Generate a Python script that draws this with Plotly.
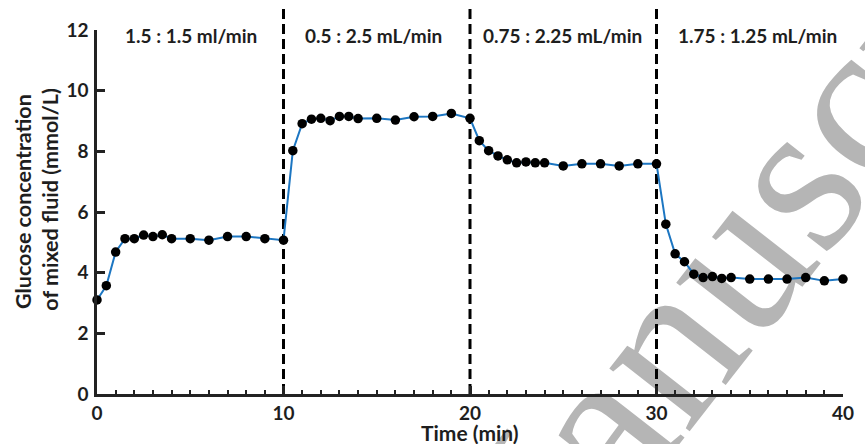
import plotly.graph_objects as go

# ---- data ----
time_min = [0, 0.5, 1, 1.5, 2, 2.5, 3, 3.5, 4, 5, 6, 7, 8, 9, 10,
            10.5, 11, 11.5, 12, 12.5, 13, 13.5, 14, 15, 16, 17, 18, 19, 20,
            20.5, 21, 21.5, 22, 22.5, 23, 23.5, 24, 25, 26, 27, 28, 29, 30,
            30.5, 31, 31.5, 32, 32.5, 33, 33.5, 34, 35, 36, 37, 38, 39, 40]
glucose = [3.10, 3.57, 4.68, 5.12, 5.12, 5.24, 5.19, 5.25, 5.12, 5.12, 5.07, 5.19, 5.19, 5.12, 5.07,
           8.02, 8.91, 9.06, 9.09, 9.01, 9.15, 9.15, 9.08, 9.09, 9.03, 9.14, 9.15, 9.25, 9.09,
           8.35, 8.02, 7.85, 7.72, 7.62, 7.65, 7.62, 7.62, 7.52, 7.59, 7.59, 7.52, 7.59, 7.59,
           5.60, 4.62, 4.36, 3.95, 3.84, 3.87, 3.81, 3.84, 3.79, 3.79, 3.79, 3.84, 3.73, 3.79]
phase_switch = [10, 20, 30]
phase_labels = ["1.5 : 1.5 ml/min", "0.5 : 2.5 mL/min", "0.75 : 2.25 mL/min", "1.75 : 1.25 mL/min"]
x_ticks = [0, 10, 20, 30, 40]
y_ticks = [0, 2, 4, 6, 8, 10, 12]

FONT = "Lato"
AX = "#222222"
TXT = "#1e1e1e"

fig = go.Figure()
fig.add_trace(go.Scatter(
    x=time_min, y=glucose, mode="lines+markers",
    line=dict(color="#1c76c2", width=2),
    marker=dict(color="black", size=9.5),
    cliponaxis=False, showlegend=False,
))

for xs in phase_switch:
    fig.add_shape(type="line", xref="x", yref="paper", x0=xs, x1=xs, y0=0, y1=1.06,
                  line=dict(color="black", width=3, dash="10px,5px"), layer="below")

label_x = [5.05, 14.8, 24.95, 35.4]
for lx, txt in zip(label_x, phase_labels):
    fig.add_annotation(x=lx, y=0.986, xref="x", yref="paper", text=txt, showarrow=False,
                       xanchor="center", yanchor="middle",
                       font=dict(family=FONT, size=19, color=TXT, weight="bold"))

# y-axis title (two lines)
fig.add_annotation(x=(22 - 97) / 757, y=(394 - 202) / 364, xref="paper", yref="paper",
                   text="Glucose concentration", textangle=-90, showarrow=False,
                   xanchor="center", yanchor="middle",
                   font=dict(family=FONT, size=21.5, color=TXT, weight="bold"))
fig.add_annotation(x=(49 - 97) / 757, y=(394 - 199) / 364, xref="paper", yref="paper",
                   text="of mixed fluid (mmol/L)", textangle=-90, showarrow=False,
                   xanchor="center", yanchor="middle",
                   font=dict(family=FONT, size=21.5, color=TXT, weight="bold"))
# x-axis title
fig.add_annotation(x=(476 - 97) / 757, y=(394 - 432) / 364, xref="paper", yref="paper",
                   text="Time (min)", showarrow=False, xanchor="center", yanchor="middle",
                   font=dict(family=FONT, size=21, color=TXT, weight="bold"))

# watermark
fig.add_annotation(x=(766 - 97) / 757, y=(394 - 224) / 364, xref="paper", yref="paper",
                   text="Manuscript", textangle=-52, showarrow=False,
                   xanchor="center", yanchor="middle",
                   font=dict(family="Liberation Serif", size=222, color="#b5b5b5"))

fig.update_xaxes(range=[0, 40], tickvals=x_ticks, ticks="inside", ticklen=8, tickwidth=2.5,
                 tickcolor=AX, showline=True, linewidth=2.5, linecolor=AX,
                 showgrid=False, zeroline=False, ticklabeloverflow="allow",
                 minor=dict(dtick=1, ticks="inside", ticklen=4, tickwidth=2, tickcolor=AX),
                 tickfont=dict(family=FONT, size=19, color=TXT, weight="bold"))
fig.update_yaxes(range=[0, 12], tickvals=y_ticks, ticks="inside", ticklen=8, tickwidth=2.5,
                 tickcolor=AX, showline=True, linewidth=2.5, linecolor=AX,
                 showgrid=False, zeroline=False, ticklabelstandoff=2,
                 tickfont=dict(family=FONT, size=19, color=TXT, weight="bold"))

fig.update_layout(width=865, height=444, margin=dict(l=97, r=11, t=30, b=50),
                  paper_bgcolor="white", plot_bgcolor="rgba(0,0,0,0)")

post = """
var gd = document.getElementById('{plot_id}');
var anns = gd.querySelectorAll('g.annotation');
var below = gd.querySelector('g.layer-below');
for (var i = 0; i < anns.length; i++) {
  if ((anns[i].textContent || '').indexOf('Manuscript') >= 0 && below) {
    below.insertBefore(anns[i], below.firstChild);
  }
}
"""
fig.write_html("out.html", post_script=post)
